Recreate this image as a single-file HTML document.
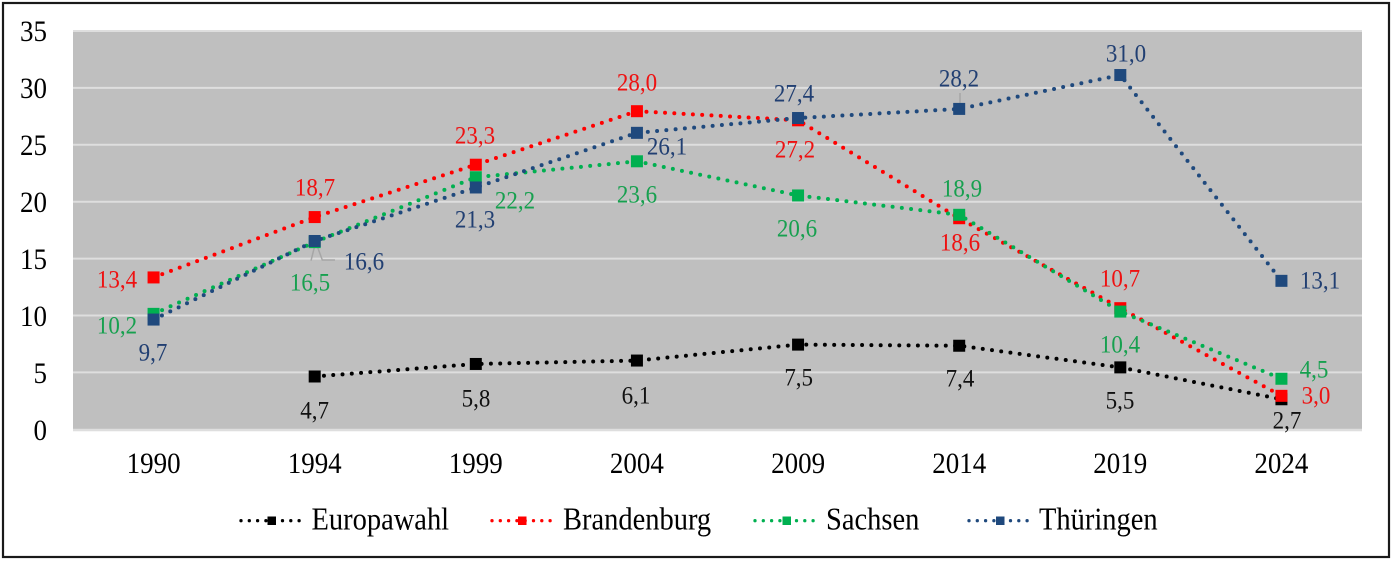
<!DOCTYPE html>
<html><head><meta charset="utf-8"><style>
html,body{margin:0;padding:0;background:#fff;}
svg{display:block;}
text{font-family:"Liberation Serif","Times New Roman",serif;transform-box:fill-box;transform-origin:center;transform:scaleY(1.1);}
</style></head><body>
<svg width="1396" height="562" viewBox="0 0 1396 562" xmlns="http://www.w3.org/2000/svg">
<rect x="0" y="0" width="1396" height="562" fill="#fff"/>
<rect x="3" y="3" width="1386" height="554" fill="none" stroke="#1a1a1a" stroke-width="2.2"/>
<!-- plot area -->
<rect x="73" y="31" width="1289" height="399" fill="#bfbfbf"/>
<g stroke="#dedede" stroke-width="2">
<line x1="73" x2="1362" y1="31" y2="31"/>
<line x1="73" x2="1362" y1="87.9" y2="87.9"/>
<line x1="73" x2="1362" y1="144.8" y2="144.8"/>
<line x1="73" x2="1362" y1="201.7" y2="201.7"/>
<line x1="73" x2="1362" y1="258.6" y2="258.6"/>
<line x1="73" x2="1362" y1="315.5" y2="315.5"/>
<line x1="73" x2="1362" y1="372.4" y2="372.4"/>
<line x1="73" x2="1362" y1="430" y2="430" stroke-width="2.5"/>
</g>
<!-- y ticks -->
<g font-size="27" text-anchor="end" fill="#000">
<text x="47" y="40">35</text>
<text x="47" y="97">30</text>
<text x="47" y="154">25</text>
<text x="47" y="211">20</text>
<text x="47" y="268">15</text>
<text x="47" y="325">10</text>
<text x="47" y="382">5</text>
<text x="47" y="439">0</text>
</g>
<!-- x ticks -->
<g font-size="27" text-anchor="middle" fill="#000">
<text x="153.6" y="472">1990</text>
<text x="314.7" y="472">1994</text>
<text x="475.8" y="472">1999</text>
<text x="636.9" y="472">2004</text>
<text x="798.1" y="472">2009</text>
<text x="959.2" y="472">2014</text>
<text x="1120.3" y="472">2019</text>
<text x="1281.4" y="472">2024</text>
</g>
<!-- leader lines -->
<g stroke="#a6a6a6" stroke-width="1.5" fill="none">
<polyline points="311,260.7 315.7,242 322.3,260 335,260"/>
<line x1="960" y1="93" x2="960" y2="107"/>
</g>
<!-- Europawahl -->
<polyline fill="none" stroke="#000" stroke-width="4" stroke-linecap="round" stroke-dasharray="0 9.3" points="314.69,376.49 475.81,363.96 636.94,360.55 798.06,344.61 959.19,345.74 1120.31,367.38 1281.44,399.26"/>
<g fill="#000">
<rect x="308.69" y="370.49" width="12" height="12"/>
<rect x="469.81" y="357.96" width="12" height="12"/>
<rect x="630.94" y="354.55" width="12" height="12"/>
<rect x="792.06" y="338.61" width="12" height="12"/>
<rect x="953.19" y="339.74" width="12" height="12"/>
<rect x="1114.31" y="361.38" width="12" height="12"/>
<rect x="1275.44" y="393.26" width="12" height="12"/>
</g>
<!-- Brandenburg -->
<polyline fill="none" stroke="#ff0000" stroke-width="4" stroke-linecap="round" stroke-dasharray="0 9.3" points="153.56,277.43 314.69,217.08 475.81,164.71 636.94,111.19 798.06,120.30 959.19,218.22 1120.31,308.17 1281.44,395.84"/>
<g fill="#ff0000">
<rect x="147.56" y="271.43" width="12" height="12"/>
<rect x="308.69" y="211.08" width="12" height="12"/>
<rect x="469.81" y="158.71" width="12" height="12"/>
<rect x="630.94" y="105.19" width="12" height="12"/>
<rect x="792.06" y="114.30" width="12" height="12"/>
<rect x="953.19" y="212.22" width="12" height="12"/>
<rect x="1114.31" y="302.17" width="12" height="12"/>
<rect x="1275.44" y="389.84" width="12" height="12"/>
</g>
<!-- Sachsen -->
<polyline fill="none" stroke="#00b050" stroke-width="4" stroke-linecap="round" stroke-dasharray="0 9.3" points="153.56,313.86 314.69,242.13 475.81,177.23 636.94,161.29 798.06,195.45 959.19,214.80 1120.31,311.59 1281.44,378.76"/>
<g fill="#00b050">
<rect x="147.56" y="307.86" width="12" height="12"/>
<rect x="308.69" y="236.13" width="12" height="12"/>
<rect x="469.81" y="171.23" width="12" height="12"/>
<rect x="630.94" y="155.29" width="12" height="12"/>
<rect x="792.06" y="189.45" width="12" height="12"/>
<rect x="953.19" y="208.80" width="12" height="12"/>
<rect x="1114.31" y="305.59" width="12" height="12"/>
<rect x="1275.44" y="372.76" width="12" height="12"/>
</g>
<!-- Thueringen -->
<polyline fill="none" stroke="#1f497d" stroke-width="4" stroke-linecap="round" stroke-dasharray="0 9.3" points="153.56,319.56 314.69,240.99 475.81,187.48 636.94,132.83 798.06,118.02 959.19,108.91 1120.31,75.03 1281.44,280.84"/>
<g fill="#1f497d">
<rect x="147.56" y="313.56" width="12" height="12"/>
<rect x="308.69" y="234.99" width="12" height="12"/>
<rect x="469.81" y="181.48" width="12" height="12"/>
<rect x="630.94" y="126.83" width="12" height="12"/>
<rect x="792.06" y="112.02" width="12" height="12"/>
<rect x="953.19" y="102.91" width="12" height="12"/>
<rect x="1114.31" y="69.03" width="12" height="12"/>
<rect x="1275.44" y="274.84" width="12" height="12"/>
</g>
<!-- data labels -->
<g font-size="23" text-anchor="middle">
<g fill="#111">
<text x="314.6" y="418">4,7</text>
<text x="476" y="406">5,8</text>
<text x="636" y="403">6,1</text>
<text x="798.7" y="385">7,5</text>
<text x="960" y="386">7,4</text>
<text x="1120" y="408">5,5</text>
<text x="1287" y="428">2,7</text>
</g>
<g fill="#ee1111">
<text x="117" y="287">13,4</text>
<text x="315" y="195">18,7</text>
<text x="475" y="143">23,3</text>
<text x="637" y="90">28,0</text>
<text x="795" y="157">27,2</text>
<text x="960" y="250">18,6</text>
<text x="1120" y="286">10,7</text>
<text x="1316" y="403">3,0</text>
</g>
<g fill="#17a04f">
<text x="117" y="333">10,2</text>
<text x="310" y="290">16,5</text>
<text x="515" y="208">22,2</text>
<text x="637" y="202">23,6</text>
<text x="797" y="236">20,6</text>
<text x="962" y="196">18,9</text>
<text x="1120" y="352">10,4</text>
<text x="1314" y="377">4,5</text>
</g>
<g fill="#213f72">
<text x="153" y="360">9,7</text>
<text x="364" y="269">16,6</text>
<text x="475" y="227">21,3</text>
<text x="667" y="154">26,1</text>
<text x="794" y="101">27,4</text>
<text x="959" y="86">28,2</text>
<text x="1126" y="61">31,0</text>
<text x="1320" y="288">13,1</text>
</g>
</g>
<!-- legend -->
<g stroke-width="3.3" stroke-linecap="round" stroke-dasharray="0 8.3" fill="none">
<line x1="241" y1="520.7" x2="302" y2="520.7" stroke="#000"/>
<line x1="492" y1="520.7" x2="553" y2="520.7" stroke="#ff0000"/>
<line x1="755" y1="520.7" x2="816" y2="520.7" stroke="#00b050"/>
<line x1="969" y1="520.7" x2="1030" y2="520.7" stroke="#1f497d"/>
</g>
<rect x="267.5" y="516.5" width="8.5" height="8.5" fill="#000"/>
<rect x="518" y="516.5" width="8.5" height="8.5" fill="#ff0000"/>
<rect x="782.5" y="516.5" width="8.5" height="8.5" fill="#00b050"/>
<rect x="996" y="516.5" width="8.5" height="8.5" fill="#1f497d"/>
<g font-size="28.5" fill="#000">
<text x="311.5" y="528.5">Europawahl</text>
<text x="563" y="528.5">Brandenburg</text>
<text x="826" y="528.5">Sachsen</text>
<text x="1039" y="528.5">Thüringen</text>
</g>
</svg>
</body></html>
